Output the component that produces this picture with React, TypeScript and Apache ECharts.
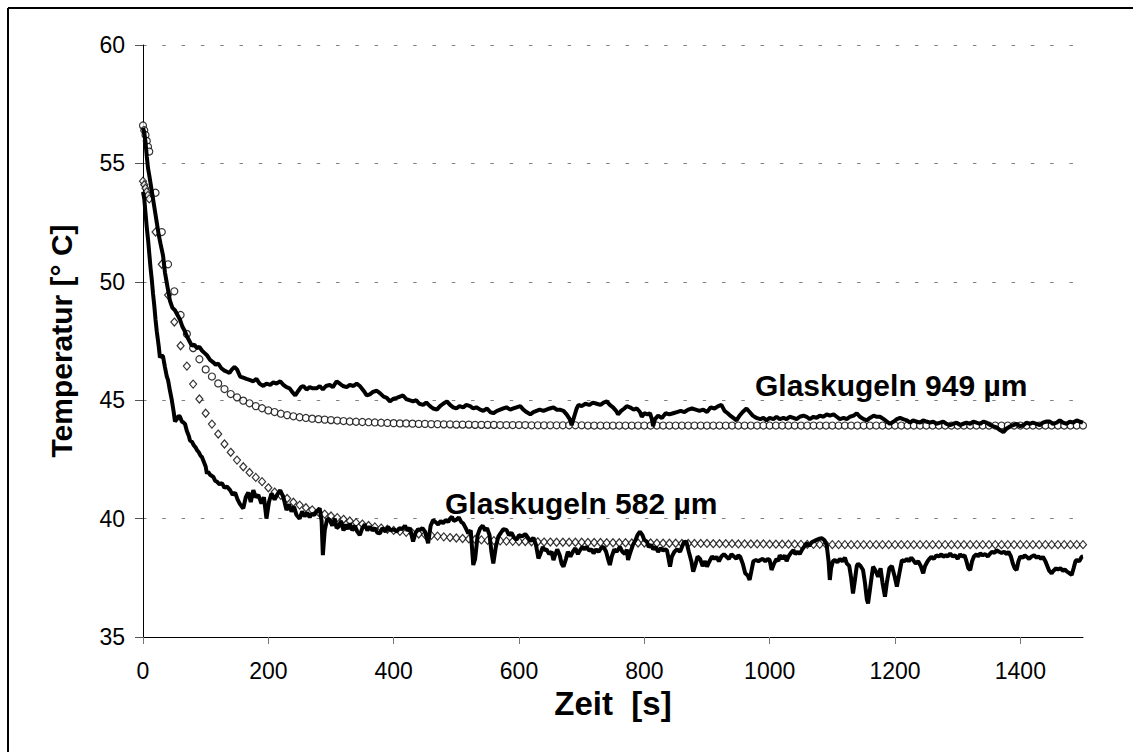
import React, { useEffect, useRef } from "react";
import * as echarts from "echarts";

// ---------- data ----------
const xTicks = [0, 200, 400, 600, 800, 1000, 1200, 1400];
const yTicks = [35, 40, 45, 50, 55, 60];

// measured, Glaskugeln 949 µm
const tMeas949 = [0,2,4,6,8,10,13,16,19,22,25,28,32,35,39,43,47,51,55,59,63,67,70,74,78,82,86,90,94,98,102,107,112,116,120,125,130,134,138,142,146,150,155,160,165,171,176,181,186,192,197,203,208,213,219,224,229,234,238,243,248,252,256,261,266,271,277,282,287,292,298,303,309,314,319,325,330,336,341,346,352,357,362,367,373,378,384,389,394,399,405,410,415,420,425,431,436,441,447,452,458,463,469,474,479,485,490,495,500,505,511,516,522,527,532,538,543,549,554,559,565,570,575,580,586,591,596,602,607,612,618,623,628,633,639,644,649,655,660,665,671,676,681,684,688,692,695,700,706,712,718,724,730,735,740,745,750,755,758,763,768,772,777,783,788,793,796,800,805,809,812,814,817,822,828,834,840,846,852,858,864,870,876,882,888,894,900,906,912,918,923,928,933,937,942,947,952,957,963,968,973,979,985,990,995,1000,1006,1011,1016,1022,1027,1032,1038,1043,1048,1054,1059,1064,1070,1075,1080,1086,1091,1096,1102,1107,1112,1118,1123,1128,1134,1139,1144,1150,1155,1160,1166,1171,1176,1182,1187,1192,1198,1203,1208,1213,1219,1224,1229,1234,1240,1245,1250,1256,1261,1266,1272,1277,1282,1288,1293,1298,1304,1309,1314,1320,1325,1330,1336,1341,1346,1352,1357,1362,1367,1373,1378,1384,1389,1394,1400,1405,1410,1415,1420,1426,1431,1436,1442,1447,1452,1458,1463,1468,1474,1479,1484,1490,1495,1500];
const meas949 = [56.5,56.3,55.9,55.3,54.8,54.5,54.0,53.5,53.0,52.5,52.0,51.6,51.1,50.4,49.8,49.2,48.9,48.8,48.6,48.4,48.1,47.9,47.7,47.5,47.3,47.35,47.2,47.25,47.1,47.0,46.9,46.7,46.6,46.5,46.55,46.35,46.25,46.2,46.15,46.3,46.4,46.3,46.0,45.95,45.9,45.85,45.8,45.9,45.7,45.6,45.7,45.65,45.75,45.7,45.8,45.65,45.55,45.5,45.35,45.2,45.4,45.55,45.6,45.45,45.55,45.5,45.5,45.6,45.45,45.6,45.65,45.55,45.8,45.7,45.6,45.55,45.65,45.6,45.7,45.6,45.4,45.2,45.25,45.35,45.4,45.3,45.15,45.1,44.95,45.05,45.1,45.15,45.2,45.05,45.0,44.95,45.0,44.85,44.8,44.9,44.75,44.65,44.6,44.75,44.85,44.95,44.8,44.7,44.65,44.75,44.7,44.8,44.75,44.65,44.7,44.6,44.55,44.65,44.5,44.45,44.55,44.6,44.65,44.7,44.6,44.65,44.7,44.75,44.6,44.5,44.4,44.5,44.55,44.6,44.55,44.6,44.65,44.7,44.6,44.6,44.55,44.4,44.2,43.95,44.3,44.65,44.8,44.75,44.85,44.8,44.9,44.85,44.8,44.9,44.95,44.8,44.7,44.55,44.4,44.55,44.65,44.75,44.7,44.6,44.65,44.5,44.3,44.45,44.4,44.45,44.2,43.9,44.2,44.35,44.25,44.45,44.4,44.45,44.5,44.55,44.5,44.6,44.65,44.6,44.55,44.6,44.5,44.7,44.65,44.75,44.8,44.55,44.45,44.35,44.25,44.15,44.35,44.5,44.65,44.5,44.35,44.25,44.2,44.25,44.15,44.25,44.2,44.3,44.2,44.25,44.2,44.3,44.25,44.2,44.3,44.35,44.3,44.2,44.3,44.25,44.35,44.3,44.4,44.35,44.4,44.3,44.2,44.25,44.2,44.3,44.35,44.45,44.3,44.2,44.15,44.25,44.35,44.3,44.3,44.2,44.1,44.0,44.1,44.2,44.25,44.2,44.15,44.05,44.15,44.1,44.05,44.15,44.1,44.05,44.1,44.0,44.05,44.1,44.0,43.95,44.0,44.05,43.95,44.0,44.05,44.0,44.1,44.05,44.0,44.1,44.05,43.95,43.9,43.85,43.75,43.65,43.8,43.9,43.95,44.0,43.9,43.95,44.05,44.0,44.05,44.0,43.95,44.05,44.1,44.1,44.0,44.05,44.15,44.05,44.0,44.1,44.05,44.15,44.1,44.05];

// measured, Glaskugeln 582 µm
const tMeas582 = [0,2,4,6,8,10,12,14,16,18,20,22,25,27,30,32,35,38,40,43,46,49,51,54,57,59,62,65,67,70,73,75,78,81,84,86,89,92,94,97,100,102,104,107,110,112,115,118,122,126,130,134,139,143,147,151,155,160,164,168,172,176,180,184,189,193,197,201,205,210,214,219,224,229,233,237,241,245,250,254,258,262,266,269,273,277,282,285,287,290,294,298,302,306,309,312,316,320,324,327,330,334,338,342,346,350,354,358,362,366,370,374,378,382,387,391,395,400,405,409,413,418,422,426,431,435,439,442,446,450,455,459,463,467,471,475,479,483,487,490,493,496,500,504,508,511,515,519,523,527,530,534,538,542,546,549,553,556,559,563,567,571,575,580,584,588,592,596,600,605,610,615,619,623,627,631,634,638,641,644,648,652,655,658,661,665,668,671,675,678,682,686,690,694,697,701,705,708,712,716,719,723,727,731,735,739,742,745,748,752,756,761,765,769,772,774,778,782,786,789,793,797,800,804,807,811,814,818,822,826,830,833,836,838,841,844,848,852,857,860,863,867,871,875,878,882,885,889,893,897,900,904,908,912,915,919,923,927,931,935,939,943,947,950,953,957,961,965,968,971,974,978,982,985,989,993,997,1000,1003,1007,1011,1014,1016,1020,1024,1027,1030,1034,1038,1041,1045,1048,1052,1056,1059,1063,1067,1071,1075,1079,1083,1087,1091,1094,1096,1098,1101,1104,1108,1112,1116,1120,1123,1127,1130,1133,1136,1139,1141,1145,1149,1152,1155,1157,1160,1163,1165,1169,1173,1177,1180,1184,1187,1191,1195,1199,1203,1207,1211,1215,1219,1222,1226,1229,1233,1237,1241,1245,1248,1252,1255,1258,1262,1266,1270,1274,1277,1281,1284,1288,1292,1296,1300,1304,1307,1311,1314,1317,1320,1323,1326,1330,1333,1336,1340,1344,1348,1352,1355,1359,1362,1366,1370,1374,1378,1381,1385,1388,1391,1394,1397,1400,1404,1407,1410,1414,1418,1422,1426,1429,1433,1436,1440,1443,1446,1450,1453,1457,1460,1464,1468,1471,1475,1478,1482,1485,1488,1490,1494,1498,1500];
const meas582 = [53.8,53.5,52.9,52.3,51.8,51.2,50.6,50.1,49.5,49.0,48.4,47.9,47.3,46.8,46.9,46.84,46.4,46.0,45.85,45.4,45.0,44.5,44.1,44.2,44.35,44.3,44.1,44.05,44.0,43.7,43.5,43.3,43.25,43.1,43.0,42.9,42.8,42.65,42.6,42.4,42.2,41.9,41.98,41.85,41.8,41.77,41.6,41.56,41.45,41.5,41.3,41.35,41.2,41.0,41.1,40.8,40.6,40.43,40.9,41.1,40.7,41.2,40.9,41.0,40.64,40.9,40.0,40.7,41.06,40.8,41.0,41.2,40.9,40.36,40.6,40.3,40.5,40.15,40.0,40.3,40.1,40.25,40.05,40.2,40.15,40.3,40.43,39.9,38.46,39.5,40.0,39.94,39.7,40.0,39.6,39.66,39.9,39.5,39.75,39.55,39.8,39.5,39.7,39.45,39.3,39.6,39.75,39.5,39.66,39.5,39.6,39.4,39.38,39.6,39.45,39.65,39.5,39.55,39.45,39.6,39.55,39.7,39.5,39.6,39.03,39.4,39.55,39.52,39.6,39.45,38.96,39.7,39.94,39.85,39.75,39.9,39.8,39.95,39.85,40.0,40.08,39.9,39.95,40.05,39.85,39.8,39.6,39.38,39.5,38.04,38.3,39.3,39.59,39.7,39.5,39.6,39.3,38.6,38.11,38.8,39.24,39.4,39.55,39.52,39.3,39.4,39.2,39.1,39.3,39.25,39.35,39.17,39.05,39.2,38.9,38.32,38.5,38.8,38.67,38.7,38.5,38.6,38.25,38.5,38.7,38.45,38.1,37.97,38.3,38.6,38.4,38.6,38.75,38.5,38.65,38.8,38.7,38.81,38.65,38.7,38.53,38.7,38.6,38.75,38.81,38.6,38.3,38.04,38.4,38.7,38.6,38.81,38.6,38.5,38.7,38.25,38.6,38.9,39.1,39.3,39.45,39.3,39.1,39.03,38.8,38.9,38.7,38.8,38.6,38.75,38.65,38.7,38.67,38.4,37.97,38.4,38.6,38.7,38.6,38.8,39.0,39.03,38.6,38.2,37.76,38.1,38.4,38.3,38.0,38.2,37.97,38.2,38.4,38.3,38.39,38.2,38.4,38.5,38.39,38.3,38.5,38.4,38.3,38.45,38.39,38.1,37.69,37.6,37.41,37.8,38.2,38.25,38.2,38.25,38.3,38.2,38.3,38.25,37.83,38.1,38.3,38.2,38.46,38.3,38.45,38.2,38.4,38.55,38.67,38.5,38.6,38.5,38.7,38.85,38.96,38.85,39.0,39.05,39.1,39.15,39.17,39.1,38.88,38.2,37.41,37.9,38.2,38.25,38.15,38.3,38.2,38.35,38.11,38.0,37.5,36.84,37.4,38.0,38.1,38.0,37.83,37.3,36.6,36.42,37.0,37.6,37.97,37.8,37.55,37.9,37.3,36.7,37.3,37.9,38.0,37.6,37.13,37.7,38.25,38.2,38.3,38.2,38.35,38.25,38.1,38.2,38.0,37.69,38.0,38.2,38.3,38.39,38.3,38.45,38.4,38.5,38.39,38.45,38.4,38.53,38.4,38.45,38.3,38.5,38.4,38.45,38.2,37.9,37.83,38.2,38.4,38.5,38.4,38.53,38.45,38.5,38.4,38.53,38.6,38.55,38.67,38.6,38.55,38.6,38.5,38.6,38.4,38.1,37.9,37.83,38.2,38.4,38.35,38.45,38.39,38.3,38.4,38.45,38.35,38.4,38.3,38.39,38.2,38.0,37.8,37.69,37.8,37.9,37.85,37.9,37.8,37.85,37.75,37.7,37.62,37.9,38.2,38.25,38.2,38.39,38.4];

// model curves (markers)
const tModel = [0,2,4,6,8,10,20,30,40,50,60,70,80,90,100,110,120,130,140,150,160,170,180,190,200,210,220,230,240,250,260,270,280,290,300,310,320,330,340,350,360,370,380,390,400,410,420,430,440,450,460,470,480,490,500,510,520,530,540,550,560,570,580,590,600,610,620,630,640,650,660,670,680,690,700,710,720,730,740,750,760,770,780,790,800,810,820,830,840,850,860,870,880,890,900,910,920,930,940,950,960,970,980,990,1000,1010,1020,1030,1040,1050,1060,1070,1080,1090,1100,1110,1120,1130,1140,1150,1160,1170,1180,1190,1200,1210,1220,1230,1240,1250,1260,1270,1280,1290,1300,1310,1320,1330,1340,1350,1360,1370,1380,1390,1400,1410,1420,1430,1440,1450,1460,1470,1480,1490,1500];
const model949 = [56.6,56.4,56.2,55.95,55.7,55.5,53.76,52.1,50.74,49.6,48.6,47.8,47.2,46.73,46.3,46.0,45.71,45.47,45.26,45.12,44.98,44.87,44.75,44.66,44.57,44.5,44.43,44.37,44.32,44.28,44.25,44.22,44.2,44.18,44.16,44.14,44.12,44.1,44.09,44.08,44.07,44.06,44.05,44.04,44.03,44.02,44.02,44.01,44.0,44.0,43.99,43.99,43.98,43.98,43.97,43.97,43.97,43.96,43.96,43.96,43.96,43.95,43.95,43.95,43.95,43.95,43.94,43.94,43.94,43.94,43.94,43.94,43.94,43.94,43.94,43.93,43.93,43.93,43.93,43.93,43.93,43.93,43.93,43.93,43.93,43.93,43.93,43.93,43.93,43.93,43.93,43.93,43.93,43.93,43.93,43.93,43.93,43.93,43.93,43.93,43.93,43.93,43.93,43.93,43.93,43.93,43.93,43.93,43.93,43.93,43.93,43.93,43.93,43.93,43.93,43.93,43.93,43.93,43.93,43.93,43.93,43.93,43.93,43.93,43.93,43.93,43.93,43.93,43.93,43.93,43.93,43.93,43.93,43.93,43.93,43.93,43.93,43.93,43.93,43.93,43.93,43.93,43.93,43.93,43.93,43.93,43.93,43.93,43.93,43.93,43.93,43.93,43.93,43.93,43.93,43.93];
const model582 = [54.25,54.1,53.95,53.8,53.65,53.5,52.1,50.74,49.44,48.3,47.3,46.44,45.68,45.05,44.45,43.99,43.57,43.15,42.8,42.47,42.19,41.95,41.74,41.56,41.3,41.12,40.98,40.85,40.69,40.57,40.46,40.37,40.28,40.19,40.11,40.04,39.97,39.9,39.83,39.77,39.71,39.65,39.6,39.55,39.5,39.46,39.42,39.38,39.35,39.32,39.29,39.26,39.23,39.2,39.18,39.16,39.14,39.12,39.1,39.08,39.07,39.06,39.05,39.04,39.03,39.03,39.02,39.02,39.01,39.01,39.0,39.0,39.0,39.0,39.0,38.99,38.99,38.99,38.98,38.98,38.98,38.98,38.97,38.97,38.97,38.97,38.96,38.96,38.96,38.96,38.95,38.95,38.95,38.95,38.95,38.94,38.94,38.94,38.94,38.93,38.93,38.93,38.93,38.93,38.92,38.92,38.92,38.92,38.92,38.91,38.91,38.91,38.91,38.91,38.9,38.9,38.9,38.9,38.9,38.9,38.9,38.9,38.9,38.9,38.9,38.9,38.9,38.9,38.9,38.9,38.9,38.9,38.9,38.9,38.9,38.9,38.9,38.9,38.9,38.9,38.9,38.9,38.9,38.9,38.9,38.9,38.9,38.9,38.9,38.9,38.9,38.9,38.9,38.9,38.9,38.9];

const labelUpper = "Glaskugeln 949 µm";
const labelLower = "Glaskugeln 582 µm";
const xTitle = "Zeit  [s]";
const yTitle = "Temperatur [° C]";

const zip = (xs: number[], ys: number[]) => xs.map((x, i) => [x, ys[i]]);

const FONT = "'Liberation Sans', Arial, sans-serif";

export default function App() {
  const ref = useRef<HTMLDivElement>(null);
  useEffect(() => {
    if (!ref.current) return;
    const chart = echarts.init(ref.current, null, { renderer: "svg" });
    chart.setOption({
      animation: false,
      backgroundColor: "#ffffff",
      grid: { left: 143, right: 50, top: 45, bottom: 115, containLabel: false },
      xAxis: {
        type: "value",
        min: 0,
        max: 1500,
        interval: 200,
        name: xTitle,
        nameLocation: "middle",
        nameGap: 38,
        nameTextStyle: { fontFamily: FONT, fontSize: 33, fontWeight: "bold", color: "#000" },
        axisLine: { show: true, lineStyle: { color: "#000", width: 1 } },
        axisTick: { show: true, inside: false, length: 7, lineStyle: { color: "#777", width: 1 }, customValues: xTicks },
        axisLabel: { fontFamily: FONT, fontSize: 23, color: "#000", margin: 22, customValues: xTicks, formatter: (v: number) => String(v) },
        splitLine: { show: false },
      },
      yAxis: {
        type: "value",
        min: 35,
        max: 60,
        interval: 5,
        name: yTitle,
        nameLocation: "middle",
        nameGap: 67,
        nameRotate: 90,
        nameTextStyle: { fontFamily: FONT, fontSize: 30, fontWeight: "bold", color: "#000" },
        axisLine: { show: true, lineStyle: { color: "#000", width: 1 } },
        axisTick: { show: true, inside: false, length: 8, lineStyle: { color: "#555", width: 1 }, customValues: yTicks },
        axisLabel: { fontFamily: FONT, fontSize: 23, color: "#000", margin: 18, customValues: yTicks, formatter: (v: number) => String(v) },
        splitLine: { show: true, lineStyle: { color: "#808080", width: 1, type: [3.5, 15.8] } },
      },
      series: [
        {
          name: "Modell 949",
          type: "scatter",
          data: zip(tModel, model949),
          symbol: "circle",
          symbolSize: 7,
          itemStyle: { color: "#fff", borderColor: "#000", borderWidth: 1.2 },
          z: 2,
        },
        {
          name: "Modell 582",
          type: "scatter",
          data: zip(tModel, model582),
          symbol: "diamond",
          symbolSize: [7, 8],
          itemStyle: { color: "#fff", borderColor: "#000", borderWidth: 1.2 },
          z: 2,
        },
        {
          name: "Messung 949",
          type: "line",
          data: zip(tMeas949, meas949),
          showSymbol: false,
          symbol: "none",
          lineStyle: { color: "#000", width: 4 },
          z: 3,
        },
        {
          name: "Messung 582",
          type: "line",
          data: zip(tMeas582, meas582),
          showSymbol: false,
          symbol: "none",
          lineStyle: { color: "#000", width: 4 },
          z: 3,
        },
      ],
      graphic: [
        {
          type: "line",
          shape: { x1: 8, y1: 8, x2: 1133, y2: 8 },
          style: { stroke: "#000", lineWidth: 2 },
          silent: true,
        },
        {
          type: "line",
          shape: { x1: 8, y1: 8, x2: 8, y2: 752 },
          style: { stroke: "#000", lineWidth: 2 },
          silent: true,
        },
        {
          type: "text",
          x: 755,
          y: 385,
          style: { text: labelUpper, fontFamily: FONT, fontSize: 30, fontWeight: "bold", fill: "#000", textVerticalAlign: "middle" },
          z: 10,
        },
        {
          type: "text",
          x: 445,
          y: 503,
          style: { text: labelLower, fontFamily: FONT, fontSize: 30, fontWeight: "bold", fill: "#000", textVerticalAlign: "middle" },
          z: 10,
        },
      ],
    });
    return () => chart.dispose();
  }, []);
  return (
    <div
      ref={ref}
      style={{ position: "absolute", left: 0, top: 0, width: 1133, height: 752, background: "#fff" }}
    />
  );
}
